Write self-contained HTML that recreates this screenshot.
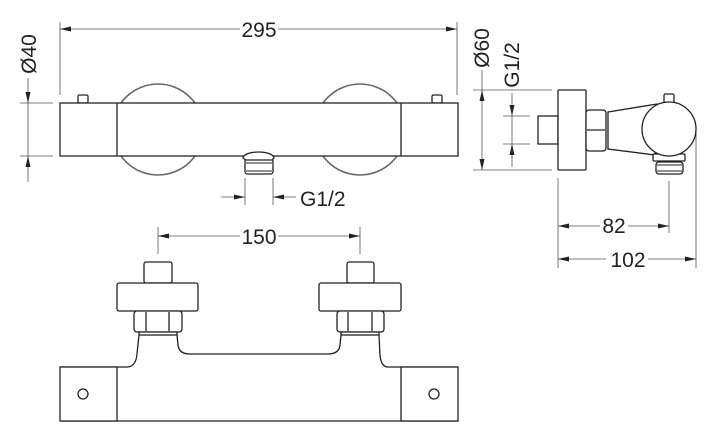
<!DOCTYPE html>
<html><head><meta charset="utf-8"><style>
html,body{margin:0;padding:0;background:#fff;}
svg{display:block;}
text{font-family:"Liberation Sans",sans-serif;font-size:21px;fill:#222;}
</style></head><body>
<svg width="720" height="445" viewBox="0 0 720 445" xmlns="http://www.w3.org/2000/svg">
<g fill="none" stroke="#555" stroke-width="0.8">
  <!-- 295 -->
  <line x1="60" y1="22" x2="60" y2="95"/>
  <line x1="457" y1="22" x2="457" y2="95"/>
  <line x1="60" y1="29" x2="240" y2="29"/>
  <line x1="278" y1="29" x2="457" y2="29"/>
  <!-- Ø40 -->
  <line x1="20" y1="103" x2="53" y2="103"/>
  <line x1="20" y1="156" x2="53" y2="156"/>
  <line x1="28" y1="78" x2="28" y2="182"/>
  <!-- G1/2 top -->
  <line x1="245" y1="178" x2="245" y2="205"/>
  <line x1="273" y1="178" x2="273" y2="205"/>
  <line x1="221" y1="197" x2="245" y2="197"/>
  <line x1="273" y1="197" x2="296" y2="197"/>
  <!-- 150 -->
  <line x1="158" y1="227" x2="158" y2="254"/>
  <line x1="360" y1="227" x2="360" y2="254"/>
  <line x1="158" y1="236" x2="240" y2="236"/>
  <line x1="278" y1="236" x2="360" y2="236"/>
  <!-- Ø60 -->
  <line x1="473" y1="90" x2="552" y2="90"/>
  <line x1="473" y1="170" x2="552" y2="170"/>
  <line x1="482" y1="70" x2="482" y2="170"/>
  <!-- G1/2 side -->
  <line x1="503" y1="116" x2="530" y2="116"/>
  <line x1="503" y1="144" x2="530" y2="144"/>
  <line x1="512" y1="93" x2="512" y2="167"/>
  <!-- 82 / 102 -->
  <line x1="558" y1="178" x2="558" y2="268"/>
  <line x1="669" y1="181" x2="669" y2="233"/>
  <line x1="696" y1="132" x2="696" y2="268"/>
  <line x1="558" y1="226" x2="600" y2="226"/>
  <line x1="628" y1="226" x2="669" y2="226"/>
  <line x1="558" y1="259" x2="606" y2="259"/>
  <line x1="648" y1="259" x2="696" y2="259"/>
</g>
<g fill="#222" stroke="none">
  <polygon points="60,29 71,26.5 71,31.5"/>
  <polygon points="457,29 446,26.5 446,31.5"/>
  <polygon points="28,103 25.5,92 30.5,92"/>
  <polygon points="28,156 25.5,167 30.5,167"/>
  <polygon points="245,197 234,194.5 234,199.5"/>
  <polygon points="273,197 284,194.5 284,199.5"/>
  <polygon points="158,236 169,233.5 169,238.5"/>
  <polygon points="360,236 349,233.5 349,238.5"/>
  <polygon points="482,90 479.5,101 484.5,101"/>
  <polygon points="482,170 479.5,159 484.5,159"/>
  <polygon points="512,116 509.5,105 514.5,105"/>
  <polygon points="512,144 509.5,155 514.5,155"/>
  <polygon points="558,226 569,223.5 569,228.5"/>
  <polygon points="669,226 658,223.5 658,228.5"/>
  <polygon points="558,259 569,256.5 569,261.5"/>
  <polygon points="696,259 685,256.5 685,261.5"/>
</g>
<!-- text -->
<text x="259" y="37" text-anchor="middle">295</text>
<text x="259" y="244" text-anchor="middle">150</text>
<text x="300" y="206">G1/2</text>
<text x="614" y="233" text-anchor="middle">82</text>
<text x="628" y="267" text-anchor="middle">102</text>
<text transform="translate(36,54) rotate(-90)" text-anchor="middle">Ø40</text>
<text transform="translate(489,48) rotate(-90)" text-anchor="middle">Ø60</text>
<text transform="translate(519,65) rotate(-90)" text-anchor="middle">G1/2</text>

<!-- TOP VIEW -->
<circle cx="158" cy="129.5" r="45.5" fill="#fff" stroke="#666" stroke-width="1.6"/>
<circle cx="360" cy="129.5" r="45.5" fill="#fff" stroke="#666" stroke-width="1.6"/>
<g stroke="#222" stroke-width="1.3" fill="#fff">
  <rect x="78" y="95" width="10" height="8" rx="1.5"/>
  <rect x="432" y="95" width="10" height="8" rx="1.5"/>
  <rect x="60" y="103" width="398" height="53"/>
  <line x1="117" y1="103" x2="117" y2="156"/>
  <line x1="401" y1="103" x2="401" y2="156"/>
  <rect x="245" y="159" width="28" height="15" rx="2.5"/>
  <path d="M243,158 C244,150 273,150 274,158 L272,160 L246,160 Z"/>
  <line x1="246" y1="163" x2="272" y2="163" stroke-width="0.9"/>
  <line x1="246" y1="171" x2="272" y2="171" stroke-width="0.9"/>
</g>

<!-- SIDE VIEW -->
<g stroke="#222" stroke-width="1.3" fill="#fff">
  <rect x="538" y="116" width="20" height="28"/>
  <rect x="558" y="90" width="28" height="80" rx="1"/>
  <rect x="586" y="110" width="20" height="41" rx="3"/>
  <line x1="587" y1="130" x2="605" y2="130"/>
  <path d="M608,112 L657,104 L655,155 L608,149 Z"/>
  <rect x="664" y="94" width="10" height="9" rx="1.5"/>
  <rect x="653" y="154" width="32" height="7" rx="1"/>
  <rect x="656" y="162" width="27" height="12" rx="3"/>
  <line x1="657" y1="165" x2="682" y2="165" stroke-width="0.9"/>
  <line x1="657" y1="171" x2="682" y2="171" stroke-width="0.9"/>
  <circle cx="669" cy="129" r="27"/>
</g>

<!-- BOTTOM VIEW -->
<g stroke="#222" stroke-width="1.3" fill="#fff">
  <rect x="144" y="262" width="28" height="21" rx="2"/>
  <rect x="117" y="283" width="81" height="28" rx="2"/>
  <rect x="134" y="311" width="48" height="21" rx="3"/>
  <line x1="146" y1="312" x2="146" y2="331"/>
  <line x1="169" y1="312" x2="169" y2="331"/>
  <rect x="139" y="332" width="38" height="3"/>

  <rect x="347" y="262" width="27" height="21" rx="2"/>
  <rect x="319" y="283" width="82" height="28" rx="2"/>
  <rect x="337" y="311" width="47" height="21" rx="3"/>
  <line x1="348" y1="312" x2="348" y2="331"/>
  <line x1="372" y1="312" x2="372" y2="331"/>
  <rect x="341" y="332" width="38" height="3"/>

  <path fill="none" d="M60,367 L128,367 Q136,366 137,354 L139,335"/>
  <path fill="none" d="M177,335 L178,345 Q179,354 190,354 L328,354 Q339,354 340,345 L341,335"/>
  <path fill="none" d="M379,335 L380,355 Q381,367 388,367 L458,367"/>
  <line x1="60" y1="421" x2="458" y2="421"/>
  <rect x="60" y="367" width="57" height="54"/>
  <rect x="401" y="367" width="57" height="54"/>
  <circle cx="83" cy="394" r="5"/>
  <circle cx="434" cy="394" r="5"/>
</g>
</svg>
</body></html>
